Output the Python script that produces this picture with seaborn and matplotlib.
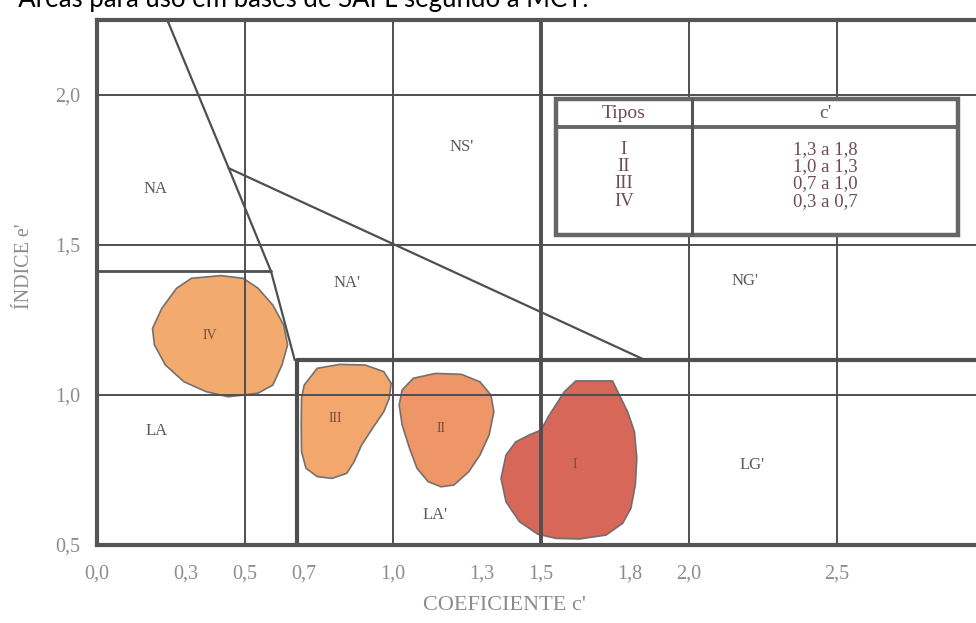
import matplotlib
matplotlib.use('Agg')
import matplotlib.pyplot as plt
from matplotlib.patches import Rectangle
import seaborn as sns
import pandas as pd

# eixos do abaco MCT
x_ticks = [0.0, 0.3, 0.5, 0.7, 1.0, 1.3, 1.5, 1.8, 2.0, 2.5]
x_tick_labels = ['0,0', '0,3', '0,5', '0,7', '1,0', '1,3', '1,5', '1,8', '2,0', '2,5']
x_tick_marks = [0.3, 1.3, 1.8]
y_ticks = [0.5, 1.0, 1.5, 2.0]
y_tick_labels = ['0,5', '1,0', '1,5', '2,0']

# linhas do quadro
thin_vlines = [0.5, 1.0, 2.0, 2.5]
thin_hlines = [1.0, 1.5, 2.0]
c_lat = 0.675      # limite lateritico (vertical grossa)
e_lat = 1.117      # limite lateritico (horizontal grossa)
c_mid = 1.5
e_na = 1.412       # linha curta do grupo NA

# divisorias inclinadas
div_left_x = [0.2375, 0.445, 0.588, 0.668]
div_left_y = [2.25, 1.756, 1.412, 1.117]
div_right_x = [0.445, 1.844]
div_right_y = [1.756, 1.12]

# grupos de solos
regions = ['NA', "NS'", "NA'", "NG'", 'LA', "LA'", "LG'"]
region_x = [0.198, 1.233, 0.844, 2.19, 0.2, 1.144, 2.214]
region_y = [1.687, 1.828, 1.372, 1.38, 0.88, 0.60, 0.767]

# areas para bases (tipos I a IV)
area_iv_x = [0.319, 0.419, 0.494, 0.544, 0.594, 0.631, 0.644, 0.625, 0.594, 0.544,
             0.444, 0.369, 0.294, 0.231, 0.194, 0.1875, 0.219, 0.269]
area_iv_y = [1.389, 1.398, 1.389, 1.356, 1.30, 1.233, 1.167, 1.10, 1.033, 1.006,
             0.994, 1.011, 1.044, 1.10, 1.167, 1.222, 1.289, 1.356]
area_iii_x = [0.744, 0.819, 0.906, 0.969, 0.994, 0.9875, 0.969, 0.931, 0.894, 0.869,
              0.844, 0.794, 0.744, 0.706, 0.691, 0.69, 0.691, 0.70]
area_iii_y = [1.089, 1.102, 1.10, 1.078, 1.039, 0.989, 0.944, 0.889, 0.833, 0.778,
              0.739, 0.722, 0.728, 0.756, 0.811, 0.90, 0.989, 1.033]
area_ii_x = [1.069, 1.144, 1.231, 1.294, 1.331, 1.341, 1.325, 1.294, 1.256, 1.206,
             1.1625, 1.119, 1.081, 1.056, 1.031, 1.021, 1.031]
area_ii_y = [1.056, 1.072, 1.069, 1.044, 1.0, 0.944, 0.867, 0.80, 0.744, 0.70,
             0.694, 0.711, 0.756, 0.822, 0.90, 0.967, 1.017]
area_i_x = [1.618, 1.742, 1.765, 1.793, 1.816, 1.824, 1.819, 1.804, 1.776, 1.72, 1.63,
            1.551, 1.489, 1.427, 1.382, 1.365, 1.382, 1.415, 1.461, 1.50, 1.528, 1.579]
area_i_y = [1.047, 1.047, 1.0, 0.944, 0.878, 0.789, 0.70, 0.622, 0.572, 0.533, 0.52,
            0.522, 0.536, 0.578, 0.644, 0.722, 0.80, 0.844, 0.867, 0.883, 0.933, 1.011]
area_names = ['IV', 'III', 'II', 'I']
area_label_x = [0.381, 0.806, 1.1625, 1.616]
area_label_y = [1.198, 0.922, 0.889, 0.767]
area_colors = ['#F2A463', '#F3A061', '#EE8E5C', '#D45B4B']

# tabela
table_tipos = ['I', 'II', 'III', 'IV']
table_c = ['1,3 a 1,8', '1,0 a 1,3', '0,7 a 1,0', '0,3 a 0,7']
table_row_y = [1.818, 1.762, 1.704, 1.646]

sns.set_theme(style='white')
plt.rcParams['font.family'] = ['Liberation Serif', 'DejaVu Serif']

fig = plt.figure(figsize=(9.76, 6.23), dpi=100)
ax = fig.add_axes([97 / 976, 1 - 545 / 623, 879 / 976, 525 / 623])
ax.set_xlim(0, 2.97)
ax.set_ylim(0.5, 2.25)

line_c = '#4f4f4f'
for x in thin_vlines:
    ax.axvline(x, color=line_c, lw=1.4, zorder=1)
for y in thin_hlines:
    ax.axhline(y, color=line_c, lw=1.4, zorder=1)
ax.axvline(c_mid, color=line_c, lw=2.8, zorder=1)
ax.plot([c_lat, c_lat], [0.5, e_lat], color=line_c, lw=3, zorder=1, solid_capstyle='butt')
ax.plot([c_lat, 2.97], [e_lat, e_lat], color=line_c, lw=3, zorder=1)
ax.plot([0, div_left_x[2]], [e_na, e_na], color=line_c, lw=2, zorder=1)

sns.lineplot(x=div_left_x, y=div_left_y, sort=False, estimator=None,
             color=line_c, lw=1.6, ax=ax, zorder=1)
sns.lineplot(x=div_right_x, y=div_right_y, sort=False, estimator=None,
             color=line_c, lw=1.6, ax=ax, zorder=1)

areas = [(area_iv_x, area_iv_y), (area_iii_x, area_iii_y),
         (area_ii_x, area_ii_y), (area_i_x, area_i_y)]
for (xs, ys), col in zip(areas, area_colors):
    ax.fill(xs, ys, facecolor=col, edgecolor='#6a6a6a', lw=1.2, alpha=0.93, zorder=0.5)

for name, x, y in zip(area_names, area_label_x, area_label_y):
    ax.text(x, y, name, ha='center', va='center', fontsize=10, color='#7a4a3a', zorder=3)
for name, x, y in zip(regions, region_x, region_y):
    ax.text(x, y, name, ha='center', va='center', fontsize=12, color='#5a5a5a', zorder=3)

# tabela dos tipos
tab_l, tab_r, tab_b, tab_t = 1.55, 2.91, 1.533, 1.987
tab_head, tab_div = 1.894, 2.01
ax.add_patch(Rectangle((tab_l, tab_b), tab_r - tab_l, tab_t - tab_b, facecolor='white',
                       edgecolor='#666666', lw=3.2, zorder=4))
ax.plot([tab_l, tab_r], [tab_head, tab_head], color='#666666', lw=2.8, zorder=5)
ax.plot([tab_div, tab_div], [tab_b, tab_t], color='#555555', lw=2.2, zorder=5)
tab_col = '#6e4c55'
ax.text((tab_l + tab_div) / 2, 1.937, 'Tipos', ha='center', va='center',
        fontsize=14, color=tab_col, zorder=6)
ax.text((tab_div + tab_r) / 2, 1.940, "c'", ha='center', va='center',
        fontsize=14, color=tab_col, zorder=6)
for tipo, faixa, y in zip(table_tipos, table_c, table_row_y):
    ax.text((tab_l + tab_div) / 2, y, tipo, ha='center', va='center',
            fontsize=13.5, color=tab_col, zorder=6)
    ax.text((tab_div + tab_r) / 2, y, faixa, ha='center', va='center',
            fontsize=13.5, color=tab_col, zorder=6)

# moldura e eixos
for side in ['left', 'top', 'bottom']:
    ax.spines[side].set_color('#555555')
    ax.spines[side].set_linewidth(3)
ax.spines['right'].set_visible(False)

ax.set_xticks(x_ticks)
ax.set_xticklabels(x_tick_labels)
ax.set_xticks(x_tick_marks, minor=True)
ax.set_yticks(y_ticks)
ax.set_yticklabels(y_tick_labels)
ax.tick_params(axis='both', which='major', length=0, labelsize=14.5, labelcolor='#8c8c8c')
ax.tick_params(axis='x', which='major', pad=14)
ax.tick_params(axis='y', which='major', pad=12)
ax.tick_params(axis='x', which='minor', bottom=True, length=5, width=1, color='#777777')

ax.set_xlabel("COEFICIENTE c'", fontsize=16, color='#8c8c8c')
ax.xaxis.set_label_coords(0.464, -0.116)
ax.xaxis.label.set_va('center')
ax.set_ylabel("ÍNDICE e'", fontsize=14.5, color='#8c8c8c')
ax.yaxis.set_label_coords(-0.082, 0.531)
ax.yaxis.label.set_va('center')

fig.text(0.002, 1 - 7 / 623, '- Áreas para uso em bases de SAFL segundo a MCT.',
         family=['Lato', 'DejaVu Sans'], fontsize=18.5, color='black',
         ha='left', va='baseline')

fig.savefig('out.png', dpi=100, facecolor='white')
